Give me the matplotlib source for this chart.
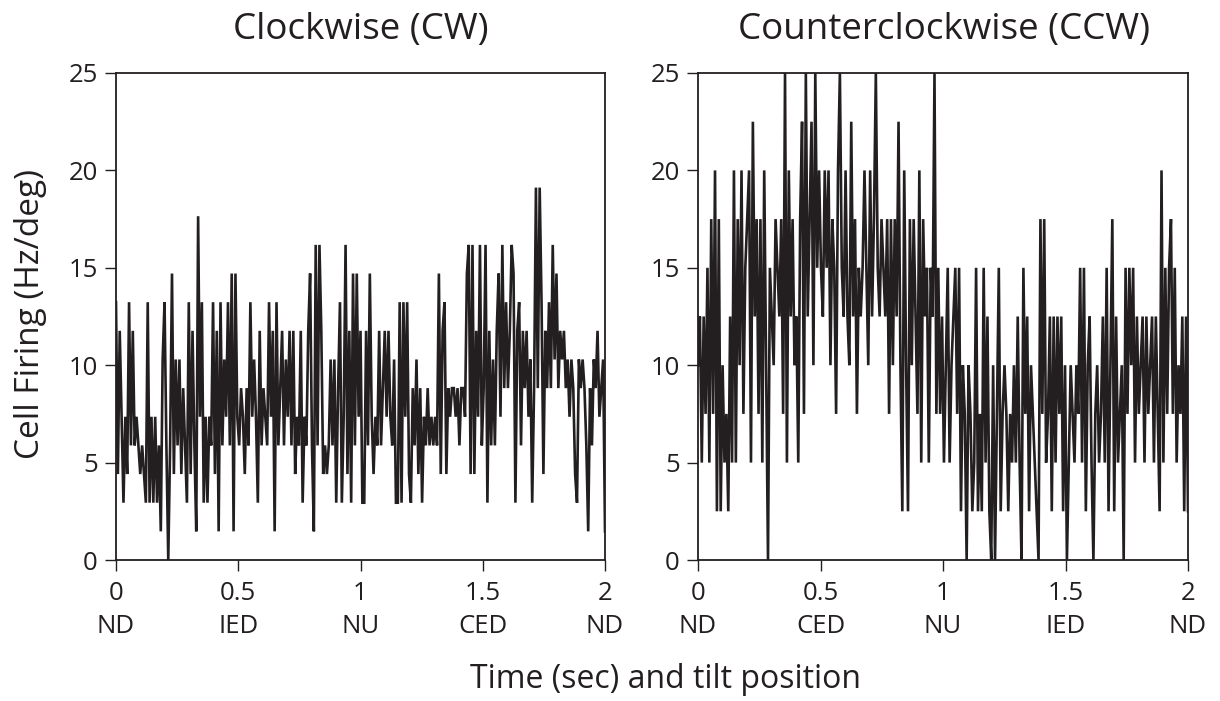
import numpy as np
import matplotlib.pyplot as plt

plt.rcParams['font.family'] = ['Open Sans', 'DejaVu Sans']

# spike counts per bin (CW bins are 25/17 Hz/deg, CCW bins 2.5 Hz/deg)
cw_unit = 25.0 / 17.0
ccw_unit = 2.5

cw_counts = [
    9, 3, 8, 5, 2, 5, 3, 9, 4, 8, 4, 5, 4,
    3, 4, 3, 2, 9, 2, 5, 2, 5, 2, 4, 1, 7, 9, 4,
    0, 4, 10, 3, 7, 4, 7, 3, 6, 4, 2, 9, 3, 8,
    4, 1, 12, 5, 9, 2, 5, 2, 5, 4, 9, 3, 8,
    1, 9, 4, 7, 5, 9, 4, 10, 1, 10, 5, 4, 6,
    5, 3, 6, 4, 9, 5, 7, 5, 2, 8, 4, 6, 5,
    4, 9, 5, 8, 1, 9, 4, 6, 8, 4, 7, 5, 8,
    4, 8, 3, 5, 4, 8, 2, 5, 4, 8, 10, 4, 1,
    11, 4, 11, 8, 3, 4, 3, 4, 7, 4, 7, 2, 6,
    9, 2, 5, 11, 3, 8, 2, 10, 4, 10, 5, 8, 2,
    2, 8, 4, 10, 5, 3, 5, 4, 8, 4, 6, 8, 5,
    8, 5, 4, 7, 2, 2, 9, 2, 9, 5, 9, 3, 2,
    6, 4, 7, 3, 6, 2, 5, 4, 6, 4, 5, 4, 5,
    4, 10, 3, 8, 9, 3, 6, 5, 6, 6, 5, 6, 4,
    6, 6, 5, 10, 11, 3, 11, 3, 8, 5, 11, 4, 6,
    11, 2, 8, 4, 7, 4, 8, 10, 5, 11, 6, 9, 6,
    8, 11, 10, 2, 8, 9, 4, 8, 6, 8, 5, 7, 2,
    6, 13, 6, 13, 9, 3, 8, 6, 9, 6, 11, 7, 10,
    6, 8, 7, 8, 6, 7, 5, 7, 6, 3, 2, 7, 6,
    7, 6, 4, 1, 6, 4, 7, 6, 8, 5, 6, 7, 1,
]

ccw_counts = [
    4, 5, 2, 5, 3, 6, 2, 7, 3, 8, 1, 7, 1,
    4, 2, 3, 1, 5, 2, 8, 2, 7, 4, 8, 3, 6,
    7, 8, 2, 9, 5, 7, 3, 7, 2, 8, 4, 0, 6,
    5, 4, 7, 6, 5, 7, 3, 10, 2, 8, 5, 7, 4,
    5, 2, 7, 9, 3, 10, 5, 7, 9, 4, 10, 6, 8,
    6, 5, 8, 6, 8, 4, 7, 6, 3, 8, 10, 6, 5,
    8, 5, 4, 9, 5, 7, 3, 6, 5, 6, 8, 6, 4,
    8, 5, 7, 10, 6, 5, 7, 6, 5, 7, 3, 7, 4,
    7, 5, 9, 4, 1, 8, 4, 1, 7, 4, 7, 5, 3,
    8, 2, 7, 5, 6, 2, 6, 5, 10, 3, 6, 3, 5,
    2, 4, 6, 2, 4, 5, 6, 3, 6, 1, 4, 3, 0,
    4, 3, 1, 2, 6, 1, 3, 1, 6, 2, 5, 1, 0,
    4, 0, 3, 6, 1, 3, 4, 3, 1, 3, 2, 4, 2,
    5, 2, 0, 6, 3, 5, 1, 4, 3, 2, 1, 0, 7,
    3, 7, 2, 3, 5, 1, 5, 2, 5, 3, 5, 1, 4,
    0, 2, 4, 3, 2, 4, 3, 6, 2, 6, 1, 4, 5,
    2, 0, 3, 4, 2, 3, 5, 2, 6, 1, 4, 7, 1,
    5, 2, 3, 4, 0, 6, 3, 6, 4, 6, 2, 5, 3,
    4, 5, 2, 5, 3, 4, 5, 2, 5, 3, 1, 8, 2,
    6, 3, 6, 7, 3, 6, 2, 4, 3, 5, 1, 5, 1,
]

x_ticks = [0, 0.5, 1, 1.5, 2]
cw_positions = ["ND", "IED", "NU", "CED", "ND"]
ccw_positions = ["ND", "CED", "NU", "IED", "ND"]
y_ticks = [0, 5, 10, 15, 20, 25]

cw = np.array(cw_counts) * cw_unit
ccw = np.array(ccw_counts) * ccw_unit
t_cw = np.linspace(0, 2, len(cw))
t_ccw = np.linspace(0, 2, len(ccw))

W, H = 1220, 701
fig = plt.figure(figsize=(W / 100, H / 100), dpi=100)
ax1 = fig.add_axes([116 / W, 141 / H, 489 / W, 487 / H])
ax2 = fig.add_axes([698 / W, 141 / H, 490 / W, 487 / H])

ink = "#231f20"
panels = [
    (ax1, t_cw, cw, cw_positions, "Clockwise (CW)", 361),
    (ax2, t_ccw, ccw, ccw_positions, "Counterclockwise (CCW)", 944),
]
for ax, t, y, names, title, cx in panels:
    ax.plot(t, y, color=ink, lw=1.9, solid_joinstyle="miter")
    ax.set_xlim(0, 2)
    ax.set_ylim(0, 25)
    ax.set_xticks(x_ticks)
    ax.set_xticklabels([f"{v:g}\n{n}" for v, n in zip(x_ticks, names)],
                       linespacing=1.45)
    ax.set_yticks(y_ticks)
    ax.tick_params(direction="out", length=8, width=1.0, labelsize=18.5,
                   colors=ink, pad=5)
    ax.tick_params(axis="x", pad=7)
    for s in ax.spines.values():
        s.set_linewidth(1.3)
        s.set_color(ink)
    fig.text(cx / W, 1 - 30 / H, title, ha="center", va="center",
             fontsize=26.5, color=ink)

fig.text(31 / W, 1 - 314 / H, "Cell Firing (Hz/deg)", rotation=90,
         ha="center", va="center", fontsize=24, color=ink)
fig.text(666 / W, 1 - 680 / H, "Time (sec) and tilt position",
         ha="center", va="center", fontsize=23, color=ink)

fig.savefig("out.png", dpi=100)
